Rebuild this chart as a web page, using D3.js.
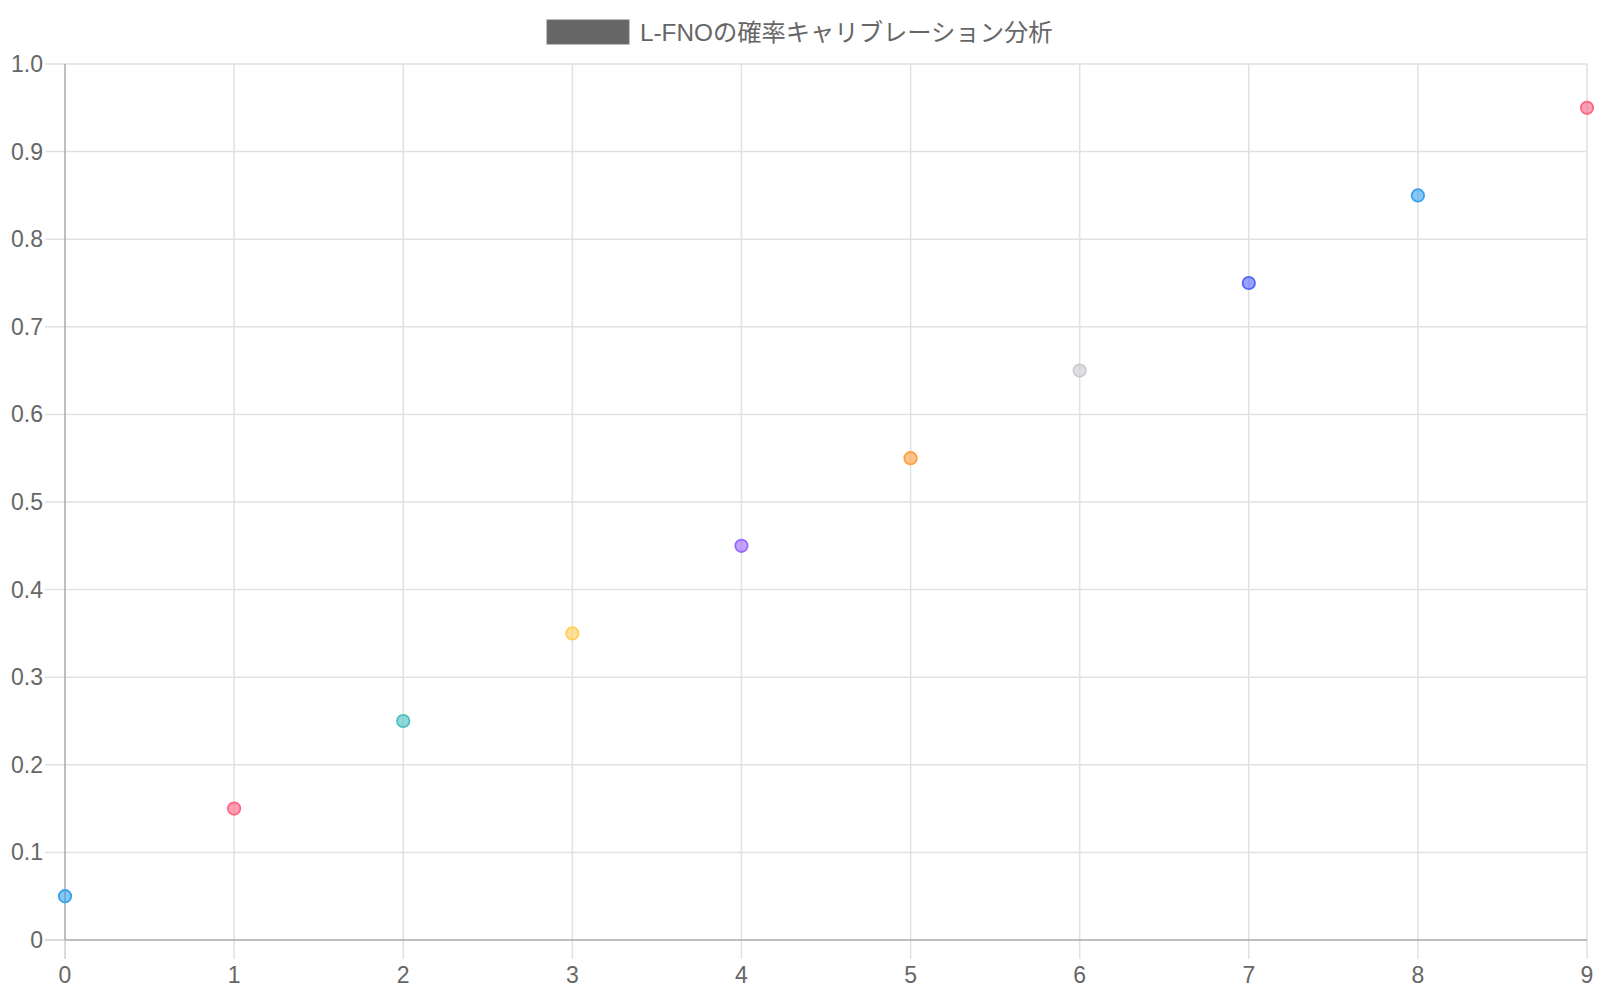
<!DOCTYPE html>
<html>
<head>
<meta charset="utf-8">
<script src="https://cdn.jsdelivr.net/npm/d3@7"></script>
<style>
  body { margin: 0; background: #fff; }
  text { font-family: "Liberation Sans", Arial, "Noto Sans CJK JP", sans-serif; fill: #666; }
</style>
</head>
<body>
<div id="chart"></div>
<script>
// ------- Data -------
const title = "L-FNOの確率キャリブレーション分析";
const xValues = [0, 1, 2, 3, 4, 5, 6, 7, 8, 9];
const yValues = [0.05, 0.15, 0.25, 0.35, 0.45, 0.55, 0.65, 0.75, 0.85, 0.95];
const pointColors = [
  "54,162,235", "255,99,132", "75,192,192", "255,205,86", "153,102,255",
  "255,159,64", "201,203,207", "83,102,255", "54,162,235", "255,99,132"
];
const xTicks = [0, 1, 2, 3, 4, 5, 6, 7, 8, 9];
const yTicks = [0, 0.1, 0.2, 0.3, 0.4, 0.5, 0.6, 0.7, 0.8, 0.9, 1.0];

// ------- Chart Setup -------
const W = 1600, H = 1000;
const margin = { top: 64, left: 65 };
const width = 1587 - margin.left;
const height = 940 - margin.top;

const root = d3.select("#chart").append("svg")
  .attr("width", W)
  .attr("height", H);

const svg = root.append("g")
  .attr("transform", `translate(${margin.left},${margin.top})`);

const x = d3.scaleLinear().domain([0, 9]).range([0, width]);
const y = d3.scaleLinear().domain([0, 1]).range([height, 0]);

// ------- Grid (lines run out past the axes as ticks) -------
const grid = svg.append("g");
grid.selectAll(".hgrid")
  .data(yTicks.filter(d => d !== 0))
  .enter().append("line")
  .attr("x1", -20).attr("x2", width)
  .attr("y1", d => y(d)).attr("y2", d => y(d))
  .attr("stroke", "#e1e1e1")
  .attr("stroke-width", 1.5);

grid.selectAll(".vgrid")
  .data(xTicks.filter(d => d !== 0))
  .enter().append("line")
  .attr("x1", d => x(d)).attr("x2", d => x(d))
  .attr("y1", 0).attr("y2", height + 19)
  .attr("stroke", "#e1e1e1")
  .attr("stroke-width", 1.5);

// tick stubs of the zero lines are light, axis lines darker
svg.append("line")
  .attr("x1", -20).attr("x2", 0)
  .attr("y1", y(0)).attr("y2", y(0))
  .attr("stroke", "#d0d0d0").attr("stroke-width", 1.5);
svg.append("line")
  .attr("x1", x(0)).attr("x2", x(0))
  .attr("y1", height).attr("y2", height + 19)
  .attr("stroke", "#d0d0d0").attr("stroke-width", 1.5);
svg.append("line")
  .attr("x1", 0).attr("x2", width)
  .attr("y1", y(0)).attr("y2", y(0))
  .attr("stroke", "#aaa").attr("stroke-width", 1.5);
svg.append("line")
  .attr("x1", x(0)).attr("x2", x(0))
  .attr("y1", 0).attr("y2", height)
  .attr("stroke", "#aaa").attr("stroke-width", 1.5);

// ------- Tick labels -------
svg.selectAll(".ylab")
  .data(yTicks)
  .enter().append("text")
  .attr("x", -22)
  .attr("y", d => y(d))
  .attr("dy", "0.35em")
  .attr("text-anchor", "end")
  .style("font-size", "23px")
  .text(d => d === 0 ? "0" : d.toFixed(1));

svg.selectAll(".xlab")
  .data(xTicks)
  .enter().append("text")
  .attr("x", d => x(d))
  .attr("y", height + 43)
  .attr("text-anchor", "middle")
  .style("font-size", "23px")
  .text(d => d);

// ------- Points -------
svg.selectAll("circle")
  .data(xValues.map((v, i) => ({ x: v, y: yValues[i], c: pointColors[i] })))
  .enter().append("circle")
  .attr("cx", d => x(d.x))
  .attr("cy", d => y(d.y))
  .attr("r", 6.2)
  .attr("fill", d => `rgba(${d.c},0.6)`)
  .attr("stroke", d => `rgb(${d.c})`)
  .attr("stroke-width", 1.8);

// ------- Legend -------
const legend = root.append("g");
legend.append("rect")
  .attr("x", 547).attr("y", 20)
  .attr("width", 82).attr("height", 24)
  .attr("fill", "#666")
  .attr("stroke", "#777")
  .attr("stroke-width", 1);
legend.append("text")
  .attr("x", 640).attr("y", 32)
  .attr("dy", "0.35em")
  .style("font-size", "24.3px")
  .text(title);
</script>
</body>
</html>
